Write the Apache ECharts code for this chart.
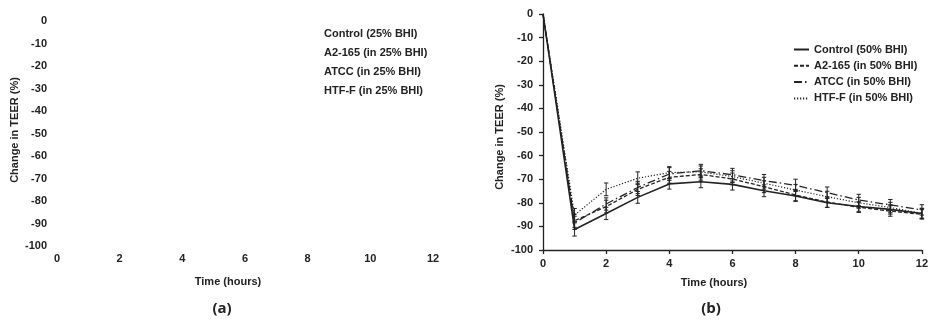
<!DOCTYPE html>
<html><head><meta charset="utf-8">
<script src="https://cdn.jsdelivr.net/npm/echarts@6/dist/echarts.min.js"></script>
<style>html,body{margin:0;padding:0;background:#fff}#c{width:931px;height:320px}</style>
</head><body><div id="c"></div>
<script>
// Time points (hours)
const hours = [0, 1, 2, 3, 4, 5, 6, 7, 8, 9, 10, 11, 12];
// Panel (a) legend names (no data drawn)
const namesA = ['Control (25% BHI)', 'A2-165 (in 25% BHI)', 'ATCC (in 25% BHI)', 'HTF-F (in 25% BHI)'];
// Panel (b) series
const namesB = ['Control (50% BHI)', 'A2-165 (in 50% BHI)', 'ATCC (in 50% BHI)', 'HTF-F (in 50% BHI)'];
const control = [0, -91.3, -84.5, -77.7, -72.0, -71.1, -72.2, -74.9, -77.1, -80.0, -81.6, -82.8, -84.5];
const a2165   = [0, -87.6, -81.6, -74.3, -69.2, -68.0, -69.9, -73.2, -76.7, -79.7, -81.9, -83.5, -84.9];
const atcc    = [0, -88.5, -80.5, -73.5, -67.8, -66.4, -68.1, -70.6, -72.6, -75.7, -78.8, -80.9, -83.0];
const htff    = [0, -85.2, -74.3, -69.6, -67.2, -66.9, -68.9, -71.7, -74.6, -77.4, -80.0, -82.0, -84.5];
// Error bar half-lengths
const controlErr = [0, 2.8, 2.6, 2.5, 2.2, 2.5, 2.4, 2.5, 2.3, 2.0, 2.0, 2.0, 2.0];
const a2165Err   = [0, 2.8, 2.7, 2.6, 2.5, 2.4, 2.5, 2.5, 2.4, 2.2, 2.2, 2.2, 2.0];
const atccErr    = [0, 2.8, 2.6, 2.6, 2.7, 2.7, 2.7, 2.6, 2.6, 2.4, 2.4, 2.3, 2.2];
const htffErr    = [0, 2.8, 2.7, 2.7, 2.5, 2.5, 2.5, 2.5, 2.4, 2.3, 2.3, 2.2, 2.2];
// Axis tick settings
const yMin = -100, yMax = 0, yStep = 10;
const xMin = 0, xMax = 12, xStep = 2;

const ink = '#222';
const font = 'Liberation Sans, Arial, sans-serif';

const seriesB = [
  {name: namesB[0], vals: control, err: controlErr, type: 'solid', width: 1.6},
  {name: namesB[1], vals: a2165, err: a2165Err, type: [4, 2], width: 1.3},
  {name: namesB[2], vals: atcc, err: atccErr, type: [8, 3, 1.5, 3], width: 1.3},
  {name: namesB[3], vals: htff, err: htffErr, type: [1.2, 1.8], width: 1.2}
];

function errRender(params, api) {
  const x = api.value(0), y = api.value(1), e = api.value(2);
  if (!e) return null;
  const hi = api.coord([x, y + e]), lo = api.coord([x, y - e]);
  const w = 2.2;
  const st = {stroke: ink, lineWidth: 1};
  return {type: 'group', children: [
    {type: 'line', shape: {x1: hi[0], y1: hi[1], x2: lo[0], y2: lo[1]}, style: st},
    {type: 'line', shape: {x1: hi[0] - w, y1: hi[1], x2: hi[0] + w, y2: hi[1]}, style: st},
    {type: 'line', shape: {x1: lo[0] - w, y1: lo[1], x2: lo[0] + w, y2: lo[1]}, style: st}
  ]};
}

const series = [];
namesA.forEach(n => series.push({name: n, type: 'line', xAxisIndex: 0, yAxisIndex: 0, data: [], symbol: 'none', lineStyle: {opacity: 0}}));
seriesB.forEach(s => {
  series.push({
    name: s.name, type: 'line', xAxisIndex: 1, yAxisIndex: 1,
    data: hours.map((h, i) => [h, s.vals[i]]),
    symbol: 'none', silent: true,
    lineStyle: {color: ink, width: s.width, type: s.type},
    itemStyle: {color: ink}
  });
  series.push({
    type: 'custom', xAxisIndex: 1, yAxisIndex: 1, silent: true,
    data: hours.map((h, i) => [h, s.vals[i], s.err[i]]),
    encode: {x: 0, y: 1},
    renderItem: errRender, z: 3
  });
});

const labelStyle = {color: ink, fontFamily: font, fontWeight: 'bold', fontSize: 11};

const option = {
  animation: false,
  backgroundColor: '#fff',
  grid: [
    {left: 57, top: 21, width: 376, height: 225},
    {left: 543, top: 14, width: 379, height: 236}
  ],
  xAxis: [
    {gridIndex: 0, type: 'value', min: xMin, max: xMax, interval: xStep,
     axisLine: {show: false}, axisTick: {show: false}, splitLine: {show: false},
     axisLabel: Object.assign({margin: 7}, labelStyle)},
    {gridIndex: 1, type: 'value', min: xMin, max: xMax, interval: xStep,
     axisLine: {show: true, onZero: false, lineStyle: {color: ink, width: 1.3}},
     axisTick: {show: true, length: 4, lineStyle: {color: ink, width: 1.3}},
     splitLine: {show: false},
     axisLabel: Object.assign({margin: 8}, labelStyle)}
  ],
  yAxis: [
    {gridIndex: 0, type: 'value', min: yMin, max: yMax, interval: yStep,
     axisLine: {show: false}, axisTick: {show: false}, splitLine: {show: false},
     axisLabel: Object.assign({margin: 10}, labelStyle)},
    {gridIndex: 1, type: 'value', min: yMin, max: yMax, interval: yStep,
     axisLine: {show: true, onZero: false, lineStyle: {color: ink, width: 1.3}},
     axisTick: {show: true, length: 4, lineStyle: {color: ink, width: 1.3}},
     splitLine: {show: false},
     axisLabel: Object.assign({margin: 10}, labelStyle)}
  ],
  legend: [
    {data: namesA, orient: 'vertical', left: 319, top: 28, itemWidth: 0, itemHeight: 10, itemGap: 8,
     icon: 'rect', itemStyle: {opacity: 0}, lineStyle: {opacity: 0}, selectedMode: false,
     textStyle: labelStyle, padding: 0},
    {data: namesB, orient: 'vertical', left: 793, top: 44, itemWidth: 15, itemHeight: 10, itemGap: 5.3,
     selectedMode: false, textStyle: labelStyle, padding: 0,
     itemStyle: {opacity: 0, borderWidth: 0}}
  ],
  graphic: [
    {type: 'text', x: 15, y: 130, rotation: Math.PI / 2,
     style: {text: 'Change in TEER (%)', fill: ink, font: 'bold 11px ' + font, textAlign: 'center', textVerticalAlign: 'middle'}},
    {type: 'text', x: 500, y: 137, rotation: Math.PI / 2,
     style: {text: 'Change in TEER (%)', fill: ink, font: 'bold 11px ' + font, textAlign: 'center', textVerticalAlign: 'middle'}},
    {type: 'text', x: 228, y: 282,
     style: {text: 'Time (hours)', fill: ink, font: 'bold 11px ' + font, textAlign: 'center', textVerticalAlign: 'middle'}},
    {type: 'text', x: 714, y: 283,
     style: {text: 'Time (hours)', fill: ink, font: 'bold 11px ' + font, textAlign: 'center', textVerticalAlign: 'middle'}},
    {type: 'text', x: 222, y: 309,
     style: {text: '(a)', fill: ink, font: 'bold 15px "Open Sans", sans-serif', textAlign: 'center', textVerticalAlign: 'middle'}},
    {type: 'text', x: 711, y: 309,
     style: {text: '(b)', fill: ink, font: 'bold 15px "Open Sans", sans-serif', textAlign: 'center', textVerticalAlign: 'middle'}}
  ],
  series: series
};

const chart = echarts.init(document.getElementById('c'), null, {renderer: 'canvas'});
chart.setOption(option);
</script>
</body></html>
